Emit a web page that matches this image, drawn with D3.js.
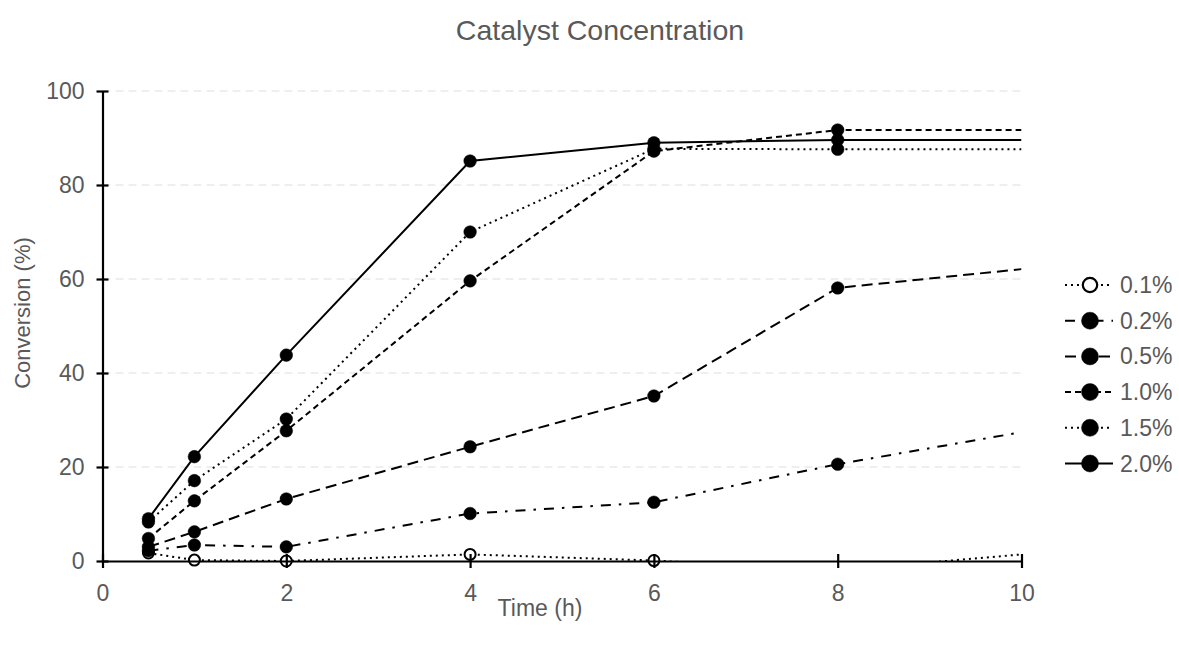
<!DOCTYPE html>
<html>
<head>
<meta charset="utf-8">
<script src="https://cdn.jsdelivr.net/npm/d3@7"></script>
<style>
  html, body { margin: 0; padding: 0; background: #fff; }
  svg { display: block; font-family: "Liberation Sans", Arial, sans-serif; }
</style>
</head>
<body>
<svg id="chart" width="1179" height="646"></svg>
<script>
// Reaction time (h)
const times = [0.5, 1, 2, 4, 6, 8, 10];

// Conversion (%) for each catalyst loading
const conv01 = [1.7, 0.2, 0.0, 1.4, 0.1, -2.0, 1.4];
const conv02 = [2.2, 3.4, 3.0, 10.1, 12.5, 20.6, 27.4];
const conv05 = [3.0, 6.2, 13.2, 24.3, 35.1, 58.1, 62.1];
const conv10 = [4.8, 12.8, 27.7, 59.6, 87.2, 91.7, 91.7];
const conv15 = [8.3, 17.1, 30.2, 70.0, 87.7, 87.6, 87.6];
const conv20 = [9.0, 22.2, 43.8, 85.1, 89.0, 89.6, 89.6];

const seriesNames = ["0.1%", "0.2%", "0.5%", "1.0%", "1.5%", "2.0%"];
const seriesValues = [conv01, conv02, conv05, conv10, conv15, conv20];

const xTicks = [0, 2, 4, 6, 8, 10];
const yTicks = [0, 20, 40, 60, 80, 100];

// line styles per series
const dashes = ["2,4", "10,8,2.5,8", "11,6", "6,4", "2,4", null];
const hollow = [true, false, false, false, false, false];

const svg = d3.select("#chart");
const textColor = "#595959";
const fontFamily = "Liberation Sans, Arial, sans-serif";

const margin = { left: 102.5, right: 1021.5, top: 91, bottom: 561 };
const x = d3.scaleLinear().domain([0, 10]).range([margin.left, margin.right]);
const y = d3.scaleLinear().domain([0, 100]).range([margin.bottom, margin.top]);

// title
svg.append("text")
  .attr("x", 600).attr("y", 40)
  .attr("text-anchor", "middle")
  .attr("font-size", 28.5)
  .attr("fill", textColor)
  .text("Catalyst Concentration");

// horizontal grid
svg.append("g")
  .selectAll("line")
  .data(yTicks.filter(d => d > 0))
  .join("line")
  .attr("x1", x(0)).attr("x2", x(10))
  .attr("y1", d => y(d)).attr("y2", d => y(d))
  .attr("stroke", "#dedede")
  .attr("stroke-width", 1)
  .attr("stroke-dasharray", "8,5");

// clip lines to the plotting area
svg.append("defs").append("clipPath").attr("id", "plotclip")
  .append("rect")
  .attr("x", x(0)).attr("y", y(100) - 2)
  .attr("width", x(10) - x(0))
  .attr("height", y(0) - y(100) + 2);

const line = d3.line()
  .x((d, i) => x(times[i]))
  .y(d => y(d));

const plot = svg.append("g");

seriesValues.forEach((vals, s) => {
  plot.append("path")
    .datum(vals)
    .attr("d", line)
    .attr("fill", "none")
    .attr("stroke", "#000")
    .attr("stroke-width", 2)
    .attr("stroke-dasharray", dashes[s])
    .attr("clip-path", "url(#plotclip)");

  const pts = vals.map((v, i) => ({ t: times[i], v }))
    .filter(p => p.t < 10 && p.v >= 0 && p.v <= 100);
  plot.append("g")
    .selectAll("circle")
    .data(pts)
    .join("circle")
    .attr("cx", d => x(d.t))
    .attr("cy", d => y(d.v))
    .attr("r", hollow[s] ? 5.5 : 6.3)
    .attr("fill", hollow[s] ? "#fff" : "#000")
    .attr("stroke", "#000")
    .attr("stroke-width", hollow[s] ? 2 : 0.5);
});

// axes (ticks cross the axis line)
const xAxis = svg.append("g")
  .attr("transform", `translate(0,${y(0)})`)
  .call(d3.axisBottom(x).tickValues(xTicks).tickSize(0).tickPadding(24));
xAxis.select(".domain").attr("stroke", "#000").attr("stroke-width", 2.2);
xAxis.selectAll(".tick").append("line")
  .attr("y1", -7).attr("y2", 7)
  .attr("stroke", "#000").attr("stroke-width", 2.2);
xAxis.selectAll("text")
  .attr("font-size", 23)
  .attr("font-family", fontFamily)
  .attr("fill", textColor);

const yAxis = svg.append("g")
  .attr("transform", `translate(${x(0)},0)`)
  .call(d3.axisLeft(y).tickValues(yTicks).tickSize(0).tickPadding(18));
yAxis.select(".domain").attr("stroke", "#000").attr("stroke-width", 2.2);
yAxis.selectAll(".tick").append("line")
  .attr("x1", -6).attr("x2", 6)
  .attr("stroke", "#000").attr("stroke-width", 2.2);
yAxis.selectAll("text")
  .attr("font-size", 23)
  .attr("font-family", fontFamily)
  .attr("fill", textColor);

// axis titles
svg.append("text")
  .attr("x", 540).attr("y", 616)
  .attr("text-anchor", "middle")
  .attr("font-size", 23)
  .attr("fill", textColor)
  .text("Time (h)");

svg.append("text")
  .attr("transform", `translate(30,313) rotate(-90)`)
  .attr("text-anchor", "middle")
  .attr("font-size", 22)
  .attr("fill", textColor)
  .text("Conversion (%)");

// legend
const legend = svg.append("g");
seriesNames.forEach((name, s) => {
  const ly = 285 + s * 35.7;
  const g = legend.append("g").attr("transform", `translate(0,${ly})`);
  g.append("line")
    .attr("x1", 1065).attr("x2", 1113)
    .attr("y1", 0).attr("y2", 0)
    .attr("stroke", "#000").attr("stroke-width", 2)
    .attr("stroke-dasharray", dashes[s]);
  g.append("circle")
    .attr("cx", 1090).attr("cy", 0)
    .attr("r", hollow[s] ? 7.2 : 8.5)
    .attr("fill", hollow[s] ? "#fff" : "#000")
    .attr("stroke", "#000")
    .attr("stroke-width", hollow[s] ? 2.2 : 0.5);
  g.append("text")
    .attr("x", 1120).attr("y", 0)
    .attr("dy", "0.35em")
    .attr("font-size", 23)
    .attr("fill", textColor)
    .text(name);
});
</script>
</body>
</html>
